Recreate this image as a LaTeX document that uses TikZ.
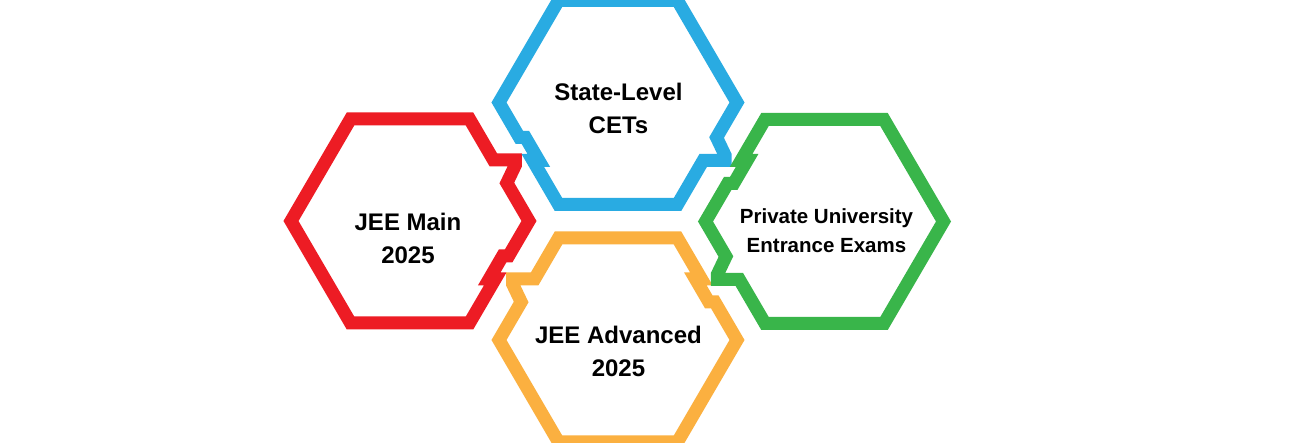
\documentclass[tikz,border=0pt]{standalone}
\usepackage{fontspec}
\setmainfont{Liberation Sans}
\definecolor{hexred}{HTML}{ED1C24}
\definecolor{hexblue}{HTML}{29ABE2}
\definecolor{hexorange}{HTML}{FBB040}
\definecolor{hexgreen}{HTML}{39B54A}
\tikzset{
  hexline/.style={line width=13pt, line join=miter, miter limit=10},
  bigtext/.style={font=\fontsize{24}{33}\selectfont\bfseries, align=center, inner sep=0pt, text=black},
  smalltext/.style={font=\fontsize{20.5}{29}\selectfont\bfseries, align=center, inner sep=0pt, text=black}
}
\begin{document}
\begin{tikzpicture}[x=1pt,y=-1pt]
\useasboundingbox (0,0) rectangle (1296,443);
\fill[white] (0,0) rectangle (1296,443);

% red: JEE Main (tab upper-right, slot lower-right)
\begin{scope}[shift={(410,221)}]
\draw[hexline, hexred] (-59.5,-102) -- (59.5,-102) -- (83.42,-61) -- (105.42,-61) -- (105.42,-56) -- (96.83,-38) -- (119,0)
  -- (98.58,35) -- (92.58,35) -- (79.17,58) -- (85.17,58) -- (59.5,102) -- (-59.5,102) -- (-119,0) -- cycle;
\end{scope}

% blue: State-Level CETs (tab lower-right, slot lower-left)
\begin{scope}[shift={(618,102.5)}]
\draw[hexline, hexblue] (-59.5,-102) -- (59.5,-102) -- (119,0) -- (98.58,35) -- (107.17,53) -- (107.17,58) -- (85.17,58)
  -- (59.5,102) -- (-59.5,102) -- (-85.17,58) -- (-79.17,58) -- (-92.58,35) -- (-98.58,35) -- (-119,0) -- cycle;
\end{scope}

% orange: JEE Advanced (slot upper-right, tab upper-left)
\begin{scope}[shift={(618,340)}]
\draw[hexline, hexorange] (-59.5,-102) -- (59.5,-102) -- (83.42,-61) -- (77.42,-61) -- (90.83,-38) -- (96.83,-38) -- (119,0)
  -- (59.5,102) -- (-59.5,102) -- (-119,0) -- (-96.83,-38) -- (-105.42,-56) -- (-105.42,-61) -- (-83.42,-61) -- cycle;
\end{scope}

% green: Private University (tab lower-left, slot upper-left)
\begin{scope}[shift={(824.5,221.5)}]
\draw[hexline, hexgreen] (-59.5,-102) -- (59.5,-102) -- (119,0) -- (59.5,102) -- (-59.5,102) -- (-85.17,58) -- (-107.17,58)
  -- (-107.17,53) -- (-98.58,35) -- (-119,0) -- (-96.83,-38) -- (-90.83,-38) -- (-77.42,-61) -- (-83.42,-61) -- cycle;
\end{scope}

\node[bigtext] (jeemain) at (408,238) {JEE Main\\2025};
\node[bigtext] (statecet) at (618.5,108) {State-Level\\CETs};
\node[bigtext] (jeeadv) at (618.5,351) {JEE Advanced\\2025};
\node[smalltext] (private) at (826.5,231) {Private University\\Entrance Exams};
\end{tikzpicture}
\end{document}
